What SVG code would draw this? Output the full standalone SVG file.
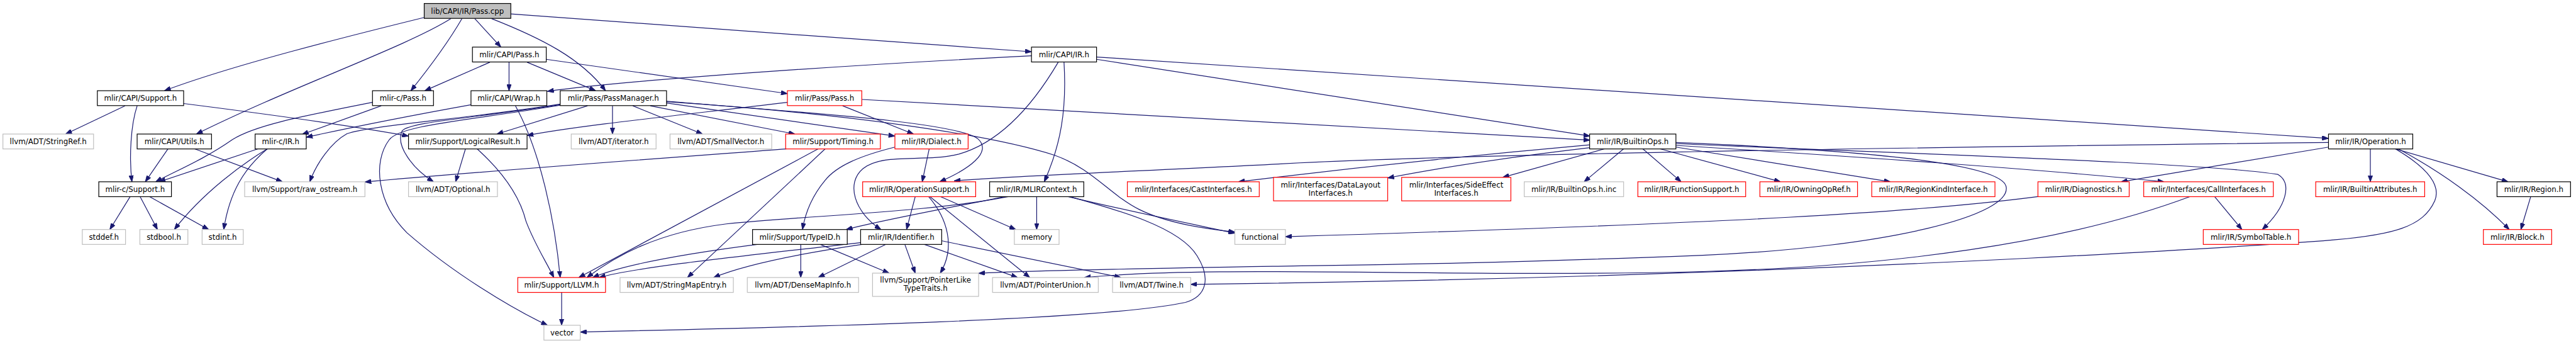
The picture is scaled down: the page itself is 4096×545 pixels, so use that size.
<svg xmlns="http://www.w3.org/2000/svg" width="4096" height="545" viewBox="0 0 4096 545">
<style>
.n rect{fill:#fff;stroke:#000;stroke-width:1.3}
.g rect{stroke:#bfbfbf}
.r rect{stroke:#ff0000}
.root rect{fill:#bfbfbf}
text{font-family:"DejaVu Sans",sans-serif;font-size:12.8px;text-anchor:middle;fill:#000}
#edges path{fill:none;stroke:#191970;stroke-width:1.3;marker-end:url(#a)}
</style>
<defs>
<marker id="a" markerWidth="11" markerHeight="8" refX="11" refY="4" orient="auto" markerUnits="userSpaceOnUse"><path d="M0,0 L11,4 L0,8 z" fill="#191970" stroke="#191970" stroke-width="1"/></marker>
</defs>
<rect width="4096" height="545" fill="#fff"/>
<g transform="scale(0.924)">
<g id="edges">
<path d="M730,30 C600,62 400,112 283,156"/>
<path d="M776,32 C700,80 500,150 338,230.5"/>
<path d="M795,32 C770,75 740,115 707,156"/>
<path d="M817,32 L862,81"/>
<path d="M846,32 C930,65 1000,100 1042,156"/>
<path d="M879,24 C1200,48 1500,68 1775,89"/>
<path d="M843,107 L731,156"/>
<path d="M876,107 L876,156"/>
<path d="M907,107 L1025,156"/>
<path d="M940,102 L1355,161"/>
<path d="M1775,96 C1500,110 1100,135 942,157"/>
<path d="M1831,107 C1836,190 1825,250 1797,312.6"/>
<path d="M1821,107 C1775,185 1720,245 1650,265 C1590,280 1520,262 1485,290 C1455,315 1470,365 1516,394.7"/>
<path d="M1887,102 C2200,148 2500,200 2736,234"/>
<path d="M1887,98 L4007,238"/>
<path d="M215,182 L113,230.5"/>
<path d="M236,182 C225,215 222,270 227,312.6"/>
<path d="M316,178 C450,195 600,215 703,234"/>
<path d="M641,176 C520,200 440,215 400,240 C350,275 300,295 268,312.6"/>
<path d="M656,182 L520,231"/>
<path d="M811,180 C700,200 600,220 527,236"/>
<path d="M887,182 C930,260 955,380 964,477.2"/>
<path d="M1011,182 L855,230.5"/>
<path d="M1054,182 L1054,230.5"/>
<path d="M1089,182 L1209,230.5"/>
<path d="M1119,182 L1368,230.5"/>
<path d="M1147,177 L1540,234"/>
<path d="M1147,174 C1400,195 1640,210 1682,238 C1710,262 1665,292 1617,312.6"/>
<path d="M1147,175 C1450,195 1700,230 1815,267 C1880,290 1910,335 1960,360 C2010,385 2080,394 2125,399"/>
<path d="M964,179 C800,205 640,215 597,230 C570,245 545,280 533,312.6"/>
<path d="M964,180 C800,205 705,210 692,225 C680,250 710,290 746,312.6"/>
<path d="M964,181 C800,208 690,215 670,240 C640,280 650,350 700,400 C780,470 880,530 942,559.3"/>
<path d="M1355,176 C1200,195 1000,215 907,233"/>
<path d="M1450,182 L1572,230.5"/>
<path d="M1483,171 L2736,241"/>
<path d="M289,256 L250,312.6"/>
<path d="M335,256 L486,312.6"/>
<path d="M444,256 L274,312.6"/>
<path d="M460,256 C420,280 350,330 300,394.7"/>
<path d="M460,256 C420,290 395,330 385,394.7"/>
<path d="M224,338 L189,394.7"/>
<path d="M241,338 L271,394.7"/>
<path d="M257,338 L359,394.7"/>
<path d="M801,256 L784,312.6"/>
<path d="M821,256 C870,300 895,340 905,380 C920,420 940,450 953,477.2"/>
<path d="M1353,256 C1100,275 800,297 628,313"/>
<path d="M1408,256 L996,477.2"/>
<path d="M1420,256 L1183,477.2"/>
<path d="M1599,256 L1587,312.6"/>
<path d="M1540,253 C1480,268 1440,285 1420,310 C1395,340 1385,370 1381,394.7"/>
<path d="M1575,338 L1560,394.7"/>
<path d="M1598,338 C1630,375 1645,425 1618,469.7"/>
<path d="M1600,338 L1772,477.2"/>
<path d="M1618,338 L1748,394.7"/>
<path d="M1784,338 L1784,394.7"/>
<path d="M1838,338 C1950,365 2050,385 2125,401"/>
<path d="M1840,338 C1920,360 2030,390 2060,440 C2085,480 2075,510 2040,520 C1900,550 1400,562 998.5,571"/>
<path d="M1730,338 C1620,360 1520,378 1456,394.7"/>
<path d="M1735,338 C1600,365 1400,370 1250,385 C1130,400 1060,440 1010,477.2"/>
<path d="M1482,417 C1300,438 1100,458 1031,477.2"/>
<path d="M1485,420 C1350,440 1270,460 1228,477.2"/>
<path d="M1525,420 L1408,477.2"/>
<path d="M1557,420 L1575,469.7"/>
<path d="M1590,420 L1751,477.2"/>
<path d="M1620,414 L1929,477.2"/>
<path d="M1305,420 C1150,440 1060,460 1020,477.2"/>
<path d="M1378,420 L1378,477.2"/>
<path d="M1411,420 L1530,469.7"/>
<path d="M966.5,502.8 L966.5,559.3"/>
<path d="M2736,249 C2500,270 2300,292 2131,312.6"/>
<path d="M2736,254 C2600,270 2470,290 2388,306"/>
<path d="M2761,256 L2586,305"/>
<path d="M2794,256 L2726,312.6"/>
<path d="M2827,256 L2893,312.6"/>
<path d="M2857,256 L3064,312.6"/>
<path d="M2884,253 L3253,312.6"/>
<path d="M2884,250 C3200,270 3500,290 3724,312.6"/>
<path d="M2884,247 C3300,265 3800,280 3920,300 C3945,315 3935,355 3893,394.7"/>
<path d="M2884,245 C3200,258 3440,280 3452,320 C3465,370 3250,425 2930,439 C2600,452 2400,455 2190,458 C1950,462 1780,465 1684,470"/>
<path d="M4007,245 C3400,252 2500,265 2200,282 C1950,295 1750,302 1642,311"/>
<path d="M4007,253 L3650,312.6"/>
<path d="M4079,256 L4079,312.6"/>
<path d="M4122,256 L4316,312.6"/>
<path d="M4127,256 C4200,295 4270,345 4318,394.7"/>
<path d="M4122,256 C4180,290 4200,320 4190,345 C4170,390 4120,405 3998,414 C3700,435 3300,455 2930,468 C2600,480 2300,486 2049,489"/>
<path d="M3507,338 C3300,365 3000,383 2212,407"/>
<path d="M3811,338 L3858,394.7"/>
<path d="M3769,338 C3550,420 3250,458 2930,467 C2500,478 2100,455 1866,477.2"/>
<path d="M4355,338 L4338,394.7"/>
</g>
<g id="n_passcpp" class="n root"><rect x="730" y="6" width="149" height="25.6"/><text x="804.5" y="23.3">lib/CAPI/IR/Pass.cpp</text></g>
<g id="n_capipass" class="n"><rect x="813" y="81" width="127" height="25.6"/><text x="876.5" y="98.3">mlir/CAPI/Pass.h</text></g>
<g id="n_capiir" class="n"><rect x="1775" y="81" width="112" height="25.6"/><text x="1831" y="98.3">mlir/CAPI/IR.h</text></g>
<g id="n_capisupport" class="n"><rect x="167.5" y="156" width="148.5" height="25.6"/><text x="241.75" y="173.3">mlir/CAPI/Support.h</text></g>
<g id="n_mlircpass" class="n"><rect x="641" y="156" width="105" height="25.6"/><text x="693.5" y="173.3">mlir-c/Pass.h</text></g>
<g id="n_wrap" class="n"><rect x="810.5" y="156" width="130.5" height="25.6"/><text x="875.75" y="173.3">mlir/CAPI/Wrap.h</text></g>
<g id="n_passmanager" class="n"><rect x="964" y="156" width="183" height="25.6"/><text x="1055.5" y="173.3">mlir/Pass/PassManager.h</text></g>
<g id="n_passpass" class="n r"><rect x="1355" y="156" width="128" height="25.6"/><text x="1419" y="173.3">mlir/Pass/Pass.h</text></g>
<g id="n_stringref" class="n g"><rect x="5" y="230.5" width="156" height="25.6"/><text x="83" y="247.8">llvm/ADT/StringRef.h</text></g>
<g id="n_utils" class="n"><rect x="236" y="230.5" width="128" height="25.6"/><text x="300" y="247.8">mlir/CAPI/Utils.h</text></g>
<g id="n_mlircir" class="n"><rect x="439" y="230.5" width="88" height="25.6"/><text x="483" y="247.8">mlir-c/IR.h</text></g>
<g id="n_logicalresult" class="n"><rect x="703" y="230.5" width="204" height="25.6"/><text x="805" y="247.8">mlir/Support/LogicalResult.h</text></g>
<g id="n_iterator" class="n g"><rect x="983" y="230.5" width="146" height="25.6"/><text x="1056" y="247.8">llvm/ADT/iterator.h</text></g>
<g id="n_smallvector" class="n g"><rect x="1153" y="230.5" width="175" height="25.6"/><text x="1240.5" y="247.8">llvm/ADT/SmallVector.h</text></g>
<g id="n_timing" class="n r"><rect x="1352" y="230.5" width="163" height="25.6"/><text x="1433.5" y="247.8">mlir/Support/Timing.h</text></g>
<g id="n_dialect" class="n r"><rect x="1540" y="230.5" width="126" height="25.6"/><text x="1603" y="247.8">mlir/IR/Dialect.h</text></g>
<g id="n_builtinops" class="n"><rect x="2735.5" y="230.5" width="148.5" height="25.6"/><text x="2809.75" y="247.8">mlir/IR/BuiltinOps.h</text></g>
<g id="n_operation" class="n"><rect x="4007" y="230.5" width="145" height="25.6"/><text x="4079.5" y="247.8">mlir/IR/Operation.h</text></g>
<g id="n_mlircsupport" class="n"><rect x="170" y="312.6" width="125" height="25.6"/><text x="232.5" y="329.9">mlir-c/Support.h</text></g>
<g id="n_rawostream" class="n g"><rect x="421" y="312.6" width="207" height="25.6"/><text x="524.5" y="329.9">llvm/Support/raw_ostream.h</text></g>
<g id="n_optional" class="n g"><rect x="703" y="312.6" width="153" height="25.6"/><text x="779.5" y="329.9">llvm/ADT/Optional.h</text></g>
<g id="n_opsupport" class="n r"><rect x="1484.5" y="312.6" width="194.5" height="25.6"/><text x="1581.75" y="329.9">mlir/IR/OperationSupport.h</text></g>
<g id="n_mlircontext" class="n"><rect x="1703" y="312.6" width="162" height="25.6"/><text x="1784" y="329.9">mlir/IR/MLIRContext.h</text></g>
<g id="n_castif" class="n r"><rect x="1940" y="312.6" width="227" height="25.6"/><text x="2053.5" y="329.9">mlir/Interfaces/CastInterfaces.h</text></g>
<g id="n_datalayout" class="n r"><rect x="2191.5" y="305" width="196.5" height="40.4"/><text x="2289.75" y="322.2">mlir/Interfaces/DataLayout</text><text x="2289.75" y="336.3">Interfaces.h</text></g>
<g id="n_sideeffect" class="n r"><rect x="2412" y="305" width="188" height="40.4"/><text x="2506" y="322.2">mlir/Interfaces/SideEffect</text><text x="2506" y="336.3">Interfaces.h</text></g>
<g id="n_builtinopsinc" class="n g"><rect x="2623" y="312.6" width="171" height="25.6"/><text x="2708.5" y="329.9">mlir/IR/BuiltinOps.h.inc</text></g>
<g id="n_funcsupport" class="n r"><rect x="2818.5" y="312.6" width="185.5" height="25.6"/><text x="2911.25" y="329.9">mlir/IR/FunctionSupport.h</text></g>
<g id="n_owningopref" class="n r"><rect x="3028.5" y="312.6" width="168" height="25.6"/><text x="3112.5" y="329.9">mlir/IR/OwningOpRef.h</text></g>
<g id="n_regionkind" class="n r"><rect x="3221" y="312.6" width="212" height="25.6"/><text x="3327" y="329.9">mlir/IR/RegionKindInterface.h</text></g>
<g id="n_diagnostics" class="n r"><rect x="3507" y="312.6" width="157" height="25.6"/><text x="3585.5" y="329.9">mlir/IR/Diagnostics.h</text></g>
<g id="n_callif" class="n r"><rect x="3689" y="312.6" width="223" height="25.6"/><text x="3800.5" y="329.9">mlir/Interfaces/CallInterfaces.h</text></g>
<g id="n_builtinattrs" class="n r"><rect x="3985" y="312.6" width="187.5" height="25.6"/><text x="4078.75" y="329.9">mlir/IR/BuiltinAttributes.h</text></g>
<g id="n_region" class="n"><rect x="4297" y="312.6" width="126.5" height="25.6"/><text x="4360.25" y="329.9">mlir/IR/Region.h</text></g>
<g id="n_stddef" class="n g"><rect x="141.6" y="394.7" width="74.4" height="25.6"/><text x="178.8" y="412">stddef.h</text></g>
<g id="n_stdbool" class="n g"><rect x="240.7" y="394.7" width="82.6" height="25.6"/><text x="282" y="412">stdbool.h</text></g>
<g id="n_stdint" class="n g"><rect x="347.8" y="394.7" width="70.8" height="25.6"/><text x="383.2" y="412">stdint.h</text></g>
<g id="n_typeid" class="n"><rect x="1295" y="394.7" width="163" height="25.6"/><text x="1376.5" y="412">mlir/Support/TypeID.h</text></g>
<g id="n_identifier" class="n"><rect x="1481" y="394.7" width="139.5" height="25.6"/><text x="1550.75" y="412">mlir/IR/Identifier.h</text></g>
<g id="n_memory" class="n g"><rect x="1745.5" y="394.7" width="77" height="25.6"/><text x="1784" y="412">memory</text></g>
<g id="n_functional" class="n g"><rect x="2125" y="394.7" width="87" height="25.6"/><text x="2168.5" y="412">functional</text></g>
<g id="n_symboltable" class="n r"><rect x="3791.5" y="394.7" width="164" height="25.6"/><text x="3873.5" y="412">mlir/IR/SymbolTable.h</text></g>
<g id="n_block" class="n r"><rect x="4273.5" y="394.7" width="117.5" height="25.6"/><text x="4332.25" y="412">mlir/IR/Block.h</text></g>
<g id="n_llvm" class="n r"><rect x="891" y="477.2" width="151" height="25.6"/><text x="966.5" y="494.5">mlir/Support/LLVM.h</text></g>
<g id="n_stringmapentry" class="n g"><rect x="1067" y="477.2" width="195" height="25.6"/><text x="1164.5" y="494.5">llvm/ADT/StringMapEntry.h</text></g>
<g id="n_densemapinfo" class="n g"><rect x="1286" y="477.2" width="191.5" height="25.6"/><text x="1381.75" y="494.5">llvm/ADT/DenseMapInfo.h</text></g>
<g id="n_pointerlike" class="n g"><rect x="1501.5" y="469.7" width="182.5" height="40"/><text x="1592.75" y="486.4">llvm/Support/PointerLike</text><text x="1592.75" y="500.5">TypeTraits.h</text></g>
<g id="n_pointerunion" class="n g"><rect x="1708" y="477.2" width="182" height="25.6"/><text x="1799" y="494.5">llvm/ADT/PointerUnion.h</text></g>
<g id="n_twine" class="n g"><rect x="1914.5" y="477.2" width="134.5" height="25.6"/><text x="1981.75" y="494.5">llvm/ADT/Twine.h</text></g>
<g id="n_vector" class="n g"><rect x="936" y="559.3" width="62.5" height="25.6"/><text x="967.25" y="576.6">vector</text></g>
</g>
</svg>
